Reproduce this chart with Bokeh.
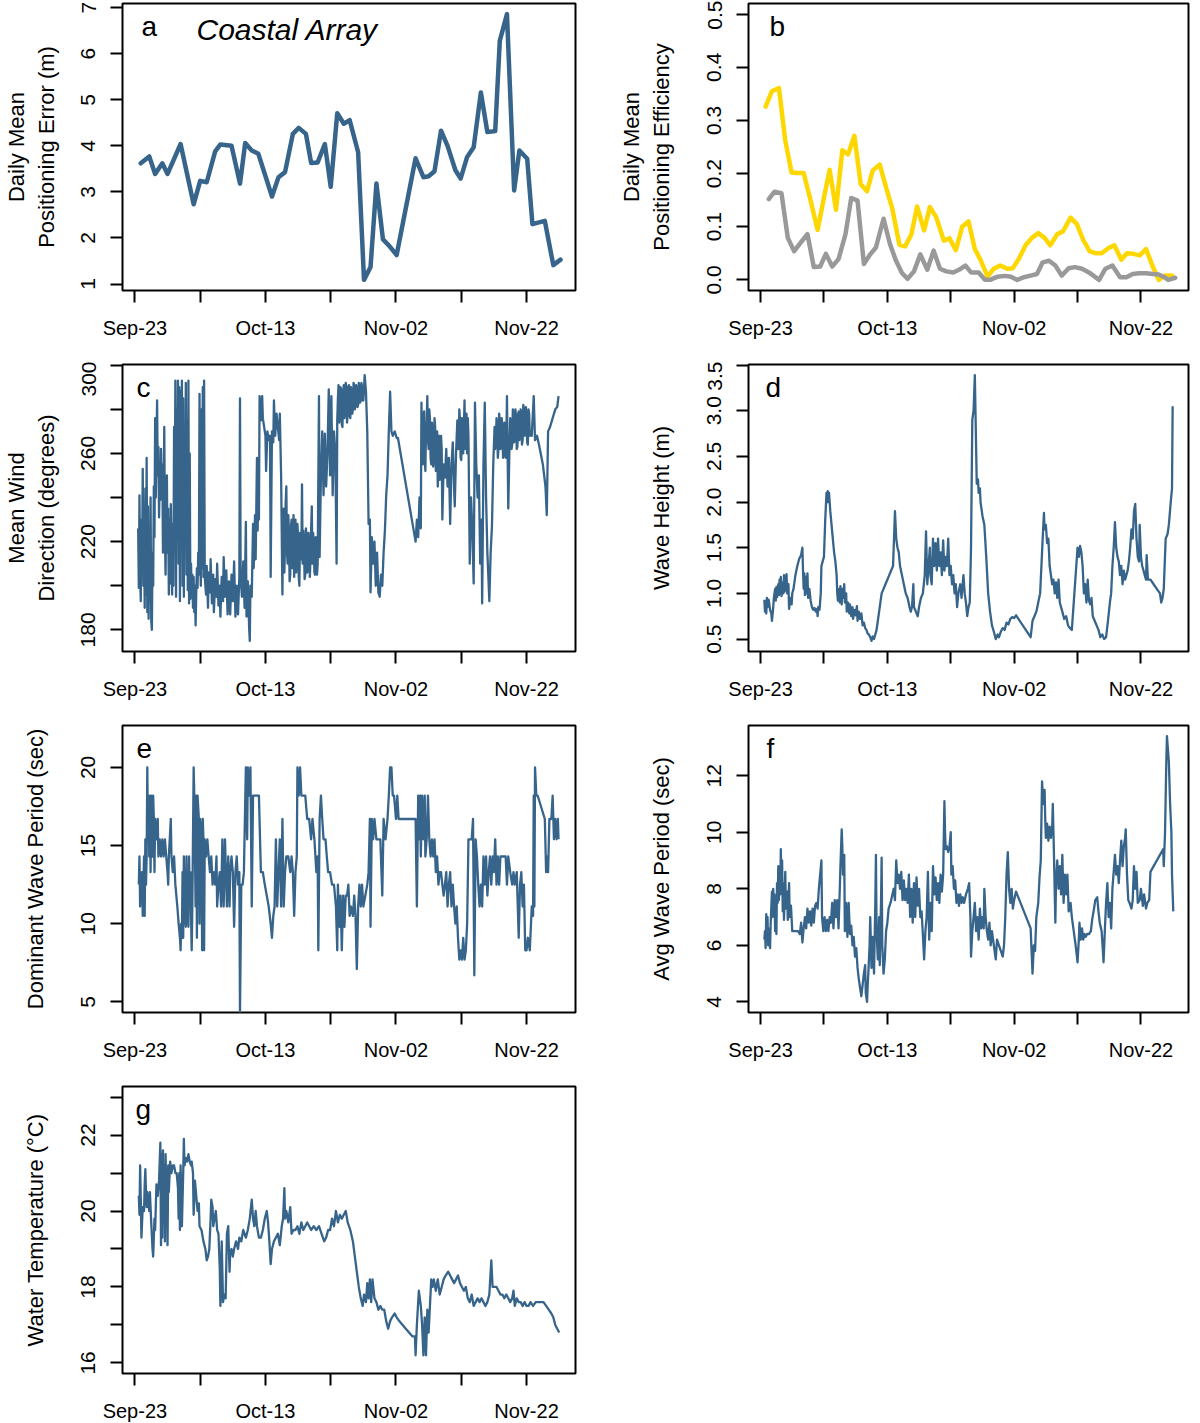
from bokeh.plotting import figure
from bokeh.layouts import column, row
from bokeh.models import FixedTicker, Range1d, Label
from bokeh.embed import file_html
from bokeh.resources import INLINE

FONT = "Liberation Sans"
BLUE = "#36648B"
GOLD = "#FFD700"
GREY = "#999999"

# x positions are days after Sep-23
X_TICKS = [0, 10, 20, 30, 40, 50, 60]
X_TICK_LABELS = ["Sep-23", "", "Oct-13", "", "Nov-02", "", "Nov-22"]
X_LIM = (-1.9, 67.5)

# ---- panel a: daily mean positioning error (m)
A_DAY = [0.9, 2.2, 3.1, 4.2, 5.0, 7.0, 9.0, 10.0, 11.0, 12.3, 13.1, 14.8, 16.1, 16.9, 17.9,
         18.9, 21.0, 22.0, 23.0, 24.2, 25.1, 26.2, 27.0, 28.0, 29.1, 30.0, 31.0, 32.0, 32.9,
         34.2, 35.1, 36.1, 37.0, 38.0, 38.9, 40.1, 43.0, 44.2, 45.0, 45.9, 46.9, 47.9, 49.1,
         49.9, 50.9, 51.9, 53.0, 54.0, 55.2, 55.9, 57.0, 58.1, 58.9, 60.1, 60.9, 62.8, 64.1, 65.2]
A_ERR = [3.62, 3.77, 3.39, 3.62, 3.39, 4.04, 2.73, 3.24, 3.21, 3.88, 4.03, 4.00, 3.18, 4.06, 3.90,
         3.83, 2.90, 3.32, 3.43, 4.26, 4.39, 4.26, 3.63, 3.64, 4.04, 3.11, 4.71, 4.48, 4.56,
         3.86, 1.09, 1.37, 3.18, 1.97, 1.84, 1.63, 3.73, 3.32, 3.34, 3.45, 4.33, 4.00, 3.47,
         3.29, 3.76, 3.97, 5.16, 4.30, 4.32, 6.28, 6.86, 3.03, 3.90, 3.72, 2.30, 2.37, 1.41, 1.53]

# ---- panel b: daily mean positioning efficiency (two series)
B_GOLD = [(0.8, 0.326), (1.8, 0.355), (2.9, 0.361), (3.9, 0.262), (4.9, 0.202), (5.9, 0.201),
          (6.8, 0.201), (7.9, 0.149), (9.0, 0.094), (10.0, 0.155), (10.9, 0.207), (11.9, 0.132),
          (12.9, 0.244), (13.8, 0.236), (14.8, 0.271), (15.8, 0.180), (16.8, 0.167), (17.7, 0.206),
          (18.8, 0.217), (19.8, 0.174), (20.8, 0.133), (21.9, 0.066), (22.8, 0.063), (23.8, 0.086),
          (24.7, 0.138), (25.8, 0.093), (26.7, 0.137), (27.7, 0.118), (28.9, 0.074), (29.8, 0.078),
          (30.8, 0.056), (31.8, 0.100), (32.8, 0.110), (33.8, 0.058), (34.8, 0.035), (35.8, 0.006),
          (36.8, 0.021), (37.8, 0.027), (38.9, 0.021), (39.8, 0.022), (40.8, 0.041), (41.8, 0.065),
          (42.8, 0.079), (43.8, 0.088), (44.8, 0.079), (45.7, 0.065), (46.8, 0.086), (47.7, 0.091),
          (48.9, 0.117), (49.9, 0.105), (50.9, 0.075), (51.9, 0.054), (52.9, 0.050), (53.8, 0.050),
          (54.9, 0.060), (55.8, 0.065), (56.9, 0.038), (57.8, 0.050), (58.8, 0.049), (59.8, 0.046),
          (60.8, 0.058), (61.9, 0.024), (62.8, 0.000), (63.7, 0.008), (64.9, 0.008)]
B_GREY = [(1.3, 0.152), (2.2, 0.166), (3.3, 0.163), (4.3, 0.079), (5.3, 0.054), (6.2, 0.068),
          (7.4, 0.086), (8.4, 0.024), (9.4, 0.025), (10.3, 0.049), (11.3, 0.025), (12.3, 0.039),
          (13.4, 0.086), (14.3, 0.154), (15.3, 0.149), (16.3, 0.030), (17.3, 0.048), (18.2, 0.061),
          (19.4, 0.115), (20.4, 0.068), (21.3, 0.038), (22.3, 0.013), (23.2, 0.002), (24.2, 0.016),
          (25.2, 0.048), (26.3, 0.019), (27.3, 0.055), (28.3, 0.021), (29.3, 0.016), (30.4, 0.014),
          (31.3, 0.019), (32.3, 0.027), (33.2, 0.014), (34.4, 0.014), (35.4, 0.000), (36.2, 0.000),
          (37.4, 0.006), (38.6, 0.0075), (39.5, 0.006), (40.5, 0.000), (41.5, 0.005), (42.6, 0.008),
          (43.6, 0.011), (44.5, 0.033), (45.5, 0.036), (46.5, 0.027), (47.5, 0.008), (48.6, 0.022),
          (49.6, 0.024), (50.7, 0.021), (51.8, 0.014), (53.4, 0.000), (54.4, 0.021), (55.5, 0.027),
          (56.7, 0.005), (57.7, 0.005), (58.7, 0.011), (59.7, 0.0125), (60.8, 0.0125), (61.9, 0.011),
          (62.8, 0.010), (63.7, 0.005), (64.3, 0.000), (65.4, 0.004)]

# ---- panel c: mean wind direction (degrees)
C_WIND = [(0.5, 226), (0.6, 199), (0.7, 241), (0.8, 205), (0.9, 193), (1.0, 230), (1.1, 210), (1.2, 253),
          (1.3, 200), (1.4, 225), (1.5, 190), (1.6, 244), (1.7, 196), (1.8, 258), (1.9, 188), (2.0, 236),
          (2.1, 185), (2.2, 225), (2.3, 193), (2.4, 240), (2.5, 184), (2.6, 180), (2.7, 215), (2.8, 200),
          (2.9, 245), (3.0, 222), (3.1, 276), (3.2, 240), (3.3, 262), (3.4, 284), (3.5, 250), (3.6, 263),
          (3.7, 231), (3.8, 250), (3.9, 239), (4.0, 262), (4.1, 245), (4.2, 255), (4.3, 215), (4.4, 241),
          (4.5, 272), (4.6, 222), (4.7, 205), (4.8, 236), (4.9, 250), (5.0, 215), (5.1, 235), (5.2, 196),
          (5.3, 230), (5.4, 201), (5.5, 237), (5.6, 215), (5.7, 196), (5.8, 228), (5.9, 200), (6.0, 272),
          (6.1, 230), (6.2, 293), (6.3, 195), (6.4, 280), (6.5, 240), (6.6, 293), (6.7, 210), (6.8, 290),
          (6.9, 193), (7.0, 288), (7.1, 220), (7.2, 293), (7.3, 200), (7.4, 285), (7.5, 195), (7.6, 270),
          (7.7, 230), (7.8, 292), (7.9, 205), (8.0, 275), (8.1, 198), (8.2, 293), (8.3, 192), (8.4, 260),
          (8.5, 194), (8.6, 210), (8.7, 195), (8.8, 205), (8.9, 190), (9.0, 204), (9.1, 188), (9.2, 200),
          (9.3, 182), (9.4, 197), (9.5, 208), (9.6, 199), (9.7, 215), (9.8, 205), (9.9, 287), (10.0, 215),
          (10.1, 200), (10.2, 280), (10.3, 208), (10.4, 290), (10.5, 204), (10.6, 293), (10.7, 204),
          (10.8, 200), (10.9, 196), (11.0, 209), (11.2, 190), (11.3, 206), (11.5, 197), (11.6, 212),
          (11.8, 192), (12.0, 205), (12.1, 188), (12.3, 203), (12.5, 195), (12.6, 210), (12.8, 191),
          (13.0, 200), (13.1, 186), (13.3, 204), (13.5, 193), (13.6, 213), (13.8, 195), (14.0, 207),
          (14.2, 187), (14.4, 202), (14.6, 187), (14.8, 205), (15.0, 193), (15.2, 211), (15.4, 186),
          (15.6, 200), (15.8, 187), (16.0, 204), (16.1, 285), (16.2, 204), (16.4, 195), (16.6, 211),
          (16.8, 190), (17.0, 229), (17.1, 186), (17.3, 202), (17.5, 181), (17.6, 175), (17.7, 200),
          (17.9, 195), (18.1, 228), (18.2, 208), (18.4, 232), (18.5, 212), (18.7, 258), (18.8, 225),
          (18.9, 240), (19.0, 230), (19.1, 286), (19.3, 275), (19.5, 286), (19.6, 276), (19.8, 272),
          (20.0, 268), (20.1, 252), (20.3, 270), (20.5, 266), (20.7, 268), (20.8, 204), (21.0, 270),
          (21.2, 265), (21.3, 284), (21.5, 268), (21.7, 278), (21.9, 272), (22.1, 266), (22.2, 278),
          (22.4, 250), (22.6, 196), (22.7, 228), (22.8, 235), (22.9, 206), (23.0, 220), (23.1, 238),
          (23.2, 245), (23.3, 215), (23.4, 210), (23.5, 232), (23.6, 225), (23.7, 202), (23.8, 205),
          (23.9, 226), (24.0, 230), (24.1, 208), (24.2, 215), (24.3, 232), (24.4, 204), (24.5, 221),
          (24.6, 230), (24.7, 206), (24.8, 210), (24.9, 228), (25.0, 222), (25.1, 204), (25.2, 200),
          (25.3, 224), (25.4, 218), (25.5, 212), (25.6, 246), (25.7, 210), (25.8, 225), (25.9, 219),
          (26.0, 203), (26.1, 205), (26.2, 226), (26.3, 222), (26.4, 206), (26.5, 208), (26.6, 224),
          (26.7, 218), (26.8, 204), (26.9, 212), (27.0, 226), (27.1, 236), (27.2, 210), (27.3, 224),
          (27.4, 220), (27.5, 206), (27.6, 205), (27.7, 222), (27.8, 215), (27.9, 205), (28.0, 210),
          (28.2, 286), (28.3, 213), (28.5, 250), (28.7, 270), (28.9, 241), (29.1, 269), (29.3, 245),
          (29.5, 260), (29.7, 289), (29.9, 250), (30.1, 286), (30.3, 241), (30.5, 270), (30.7, 261),
          (30.9, 210), (31.0, 275), (31.1, 285), (31.2, 291), (31.3, 274), (31.4, 276), (31.5, 290),
          (31.6, 289), (31.7, 273), (31.8, 272), (31.9, 288), (32.0, 291), (32.1, 276), (32.2, 280),
          (32.3, 292), (32.4, 290), (32.5, 274), (32.6, 278), (32.7, 290), (32.8, 291), (32.9, 277),
          (33.0, 276), (33.1, 290), (33.2, 288), (33.3, 278), (33.4, 280), (33.5, 292), (33.6, 291),
          (33.7, 280), (33.8, 283), (33.9, 291), (34.0, 288), (34.1, 281), (34.2, 282), (34.3, 292),
          (34.4, 290), (34.5, 283), (34.6, 284), (34.7, 292), (34.8, 290), (34.9, 284), (35.0, 284),
          (35.2, 295.5), (35.4, 288), (35.6, 270), (35.8, 228), (36.0, 230), (36.1, 197), (36.3, 222),
          (36.5, 210), (36.7, 220), (36.9, 200), (37.1, 215), (37.3, 197), (37.5, 195), (37.7, 205),
          (37.9, 200), (38.1, 215), (38.3, 225), (38.5, 241), (38.7, 250), (38.9, 270), (39.1, 288),
          (39.3, 270), (39.5, 268), (39.8, 270), (40.1, 267), (40.3, 267), (43.0, 220), (43.2, 230),
          (43.4, 222), (43.6, 240), (43.8, 226), (43.9, 283), (44.0, 262), (44.1, 255), (44.2, 276),
          (44.3, 279), (44.4, 258), (44.5, 252), (44.6, 272), (44.7, 275), (44.8, 286), (44.9, 266),
          (45.0, 262), (45.1, 280), (45.2, 276), (45.3, 258), (45.4, 255), (45.5, 274), (45.6, 270),
          (45.7, 254), (45.8, 258), (45.9, 276), (46.0, 272), (46.1, 252), (46.2, 263), (46.3, 270),
          (46.4, 245), (46.5, 266), (46.6, 268), (46.7, 248), (46.8, 250), (46.9, 268), (47.0, 262),
          (47.1, 230), (47.3, 255), (47.5, 249), (47.7, 262), (47.9, 245), (48.1, 258), (48.3, 228),
          (48.5, 255), (48.7, 265), (48.9, 244), (49.0, 236), (49.2, 260), (49.4, 275), (49.5, 262),
          (49.6, 262), (49.7, 280), (49.8, 275), (49.9, 258), (50.0, 257), (50.1, 276), (50.2, 270),
          (50.3, 260), (50.5, 284), (50.6, 262), (50.7, 270), (50.8, 278), (50.9, 260), (51.0, 276),
          (51.1, 268), (51.3, 210), (51.5, 240), (51.7, 225), (51.9, 201), (52.1, 283), (52.3, 255),
          (52.5, 240), (52.7, 250), (52.9, 210), (53.1, 230), (53.2, 192), (53.4, 255), (53.6, 283),
          (53.8, 240), (54.0, 215), (54.3, 193), (54.5, 215), (54.7, 227), (54.9, 255), (55.1, 272),
          (55.2, 262), (55.3, 265), (55.4, 276), (55.5, 270), (55.6, 258), (55.7, 262), (55.8, 278),
          (55.9, 275), (56.0, 262), (56.1, 264), (56.2, 276), (56.3, 270), (56.4, 258), (56.5, 260),
          (56.6, 274), (56.7, 268), (56.8, 258), (56.9, 265), (57.0, 286), (57.2, 235), (57.4, 265),
          (57.5, 276), (57.6, 272), (57.7, 262), (57.8, 264), (57.9, 280), (58.0, 278), (58.1, 265),
          (58.2, 268), (58.3, 280), (58.4, 275), (58.5, 262), (58.6, 263), (58.7, 278), (58.8, 279),
          (58.9, 266), (59.0, 268), (59.1, 280), (59.2, 276), (59.3, 264), (59.4, 266), (59.5, 282),
          (59.6, 280), (59.7, 268), (59.8, 270), (59.9, 281), (60.0, 276), (60.1, 265), (60.2, 264),
          (60.3, 280), (60.4, 278), (60.5, 268), (60.6, 270), (60.8, 268), (61.1, 286), (61.3, 266),
          (61.6, 268), (61.9, 264), (62.5, 255), (62.9, 245), (63.1, 232), (63.3, 270), (63.6, 272),
          (64.0, 276), (64.4, 280), (64.7, 281), (64.9, 286)]

# ---- panel d: wave height (m)
D_WAVE = [(0.6, 0.93), (0.7, 0.80), (0.8, 0.90), (0.9, 0.78), (1.0, 0.95), (1.1, 0.85), (1.3, 0.93),
          (1.5, 0.82), (1.7, 0.78), (1.8, 0.70), (2.0, 0.85), (2.1, 0.95), (2.3, 1.05), (2.4, 0.92),
          (2.5, 1.07), (2.6, 0.96), (2.8, 1.10), (2.9, 0.98), (3.0, 1.15), (3.1, 1.00), (3.2, 1.18),
          (3.3, 0.97), (3.5, 1.12), (3.6, 1.00), (3.7, 1.20), (3.8, 1.02), (4.0, 1.15), (4.1, 1.21),
          (4.2, 1.00), (4.4, 1.10), (4.5, 0.83), (4.7, 0.95), (4.9, 0.88), (5.0, 1.00), (5.2, 1.05),
          (5.5, 1.20), (5.8, 1.30), (6.1, 1.38), (6.4, 1.42), (6.6, 1.50), (6.7, 1.25), (6.8, 1.05),
          (6.9, 1.22), (7.0, 0.98), (7.1, 1.18), (7.2, 1.00), (7.4, 1.22), (7.5, 0.95), (7.7, 1.05),
          (7.9, 0.92), (8.1, 0.85), (8.3, 0.82), (8.5, 0.84), (8.7, 0.80), (8.9, 0.83), (9.0, 0.75),
          (9.1, 0.85), (9.3, 0.82), (9.5, 1.00), (9.6, 1.30), (9.8, 1.35), (10.0, 1.40), (10.2, 1.80),
          (10.4, 2.10), (10.5, 2.00), (10.6, 2.12), (10.7, 2.00), (10.8, 2.10), (11.0, 1.90), (11.2, 1.75),
          (11.4, 1.60), (11.6, 1.45), (11.8, 1.35), (12.0, 1.20), (12.1, 1.00), (12.2, 0.92), (12.4, 1.05),
          (12.5, 0.90), (12.6, 1.08), (12.8, 0.88), (12.9, 1.05), (13.0, 0.95), (13.2, 1.10), (13.3, 0.90),
          (13.5, 1.00), (13.6, 0.80), (13.8, 0.90), (14.0, 0.78), (14.1, 0.88), (14.3, 0.75), (14.5, 0.85),
          (14.6, 0.72), (14.8, 0.82), (15.0, 0.76), (15.2, 0.86), (15.3, 0.70), (15.5, 0.80), (15.7, 0.72),
          (15.9, 0.78), (16.1, 0.65), (16.3, 0.68), (16.5, 0.62), (16.7, 0.60), (16.9, 0.56), (17.1, 0.55),
          (17.3, 0.52), (17.5, 0.48), (17.7, 0.53), (17.9, 0.50), (18.1, 0.55), (18.3, 0.60), (18.5, 0.70),
          (18.8, 0.85), (19.1, 1.00), (19.4, 1.05), (19.7, 1.10), (20.0, 1.15), (20.3, 1.20), (20.6, 1.25),
          (20.9, 1.30), (21.2, 1.90), (21.4, 1.60), (21.6, 1.50), (21.8, 1.45), (22.0, 1.30), (22.3, 1.20),
          (22.6, 1.10), (22.9, 1.00), (23.2, 0.95), (23.5, 0.85), (23.7, 0.80), (23.9, 0.86), (24.1, 1.10),
          (24.2, 0.85), (24.5, 0.80), (24.8, 0.75), (25.0, 0.85), (25.3, 0.95), (25.6, 1.00), (25.9, 1.20),
          (26.1, 1.68), (26.3, 1.10), (26.5, 1.30), (26.7, 1.50), (26.8, 1.20), (27.0, 1.10), (27.2, 1.60),
          (27.4, 1.30), (27.6, 1.55), (27.8, 1.25), (28.0, 1.60), (28.2, 1.30), (28.4, 1.45), (28.6, 1.20),
          (28.8, 1.58), (29.0, 1.25), (29.2, 1.40), (29.4, 1.30), (29.6, 1.60), (29.8, 1.20), (30.0, 1.30),
          (30.2, 1.10), (30.4, 1.20), (30.6, 1.00), (30.8, 1.10), (31.0, 0.85), (31.2, 1.00), (31.5, 1.10),
          (31.7, 0.95), (32.0, 1.20), (32.2, 1.00), (32.4, 0.90), (32.6, 0.75), (32.8, 0.85), (33.0, 0.90),
          (33.2, 1.50), (33.4, 2.90), (33.6, 3.00), (33.8, 3.39), (34.0, 2.60), (34.1, 2.20), (34.3, 2.25),
          (34.4, 2.10), (34.6, 2.15), (34.7, 2.00), (35.0, 1.85), (35.3, 1.75), (35.6, 1.40), (35.9, 1.00),
          (36.2, 0.80), (36.5, 0.65), (36.8, 0.58), (37.1, 0.50), (37.4, 0.55), (37.6, 0.52), (37.9, 0.58),
          (38.2, 0.62), (38.5, 0.60), (38.8, 0.68), (39.1, 0.66), (39.4, 0.72), (39.7, 0.74), (40.0, 0.73),
          (40.3, 0.76), (42.6, 0.52), (42.9, 0.70), (43.2, 0.75), (43.5, 0.80), (43.8, 0.90), (44.1, 1.00),
          (44.3, 1.30), (44.5, 1.60), (44.7, 1.88), (44.8, 1.70), (45.0, 1.75), (45.2, 1.55), (45.4, 1.60),
          (45.6, 1.30), (45.8, 1.20), (46.0, 1.10), (46.2, 1.15), (46.4, 1.00), (46.6, 1.12), (46.8, 0.95),
          (47.0, 1.15), (47.2, 0.90), (47.4, 0.85), (47.6, 0.80), (47.9, 0.72), (48.2, 0.75), (48.5, 0.65),
          (48.8, 0.62), (49.1, 0.60), (49.3, 0.80), (49.6, 1.10), (49.8, 1.30), (50.0, 1.50), (50.2, 1.40),
          (50.4, 1.52), (50.6, 1.45), (50.8, 1.30), (51.0, 1.00), (51.2, 1.10), (51.4, 0.90), (51.6, 1.15),
          (51.8, 0.92), (52.0, 0.88), (52.2, 0.95), (52.4, 0.75), (52.7, 0.70), (53.0, 0.65), (53.3, 0.60),
          (53.6, 0.52), (53.9, 0.55), (54.2, 0.50), (54.5, 0.52), (54.8, 0.70), (55.1, 0.90), (55.3, 1.00),
          (55.5, 1.30), (55.7, 1.50), (55.9, 1.78), (56.1, 1.50), (56.3, 1.40), (56.5, 1.35), (56.7, 1.20),
          (56.9, 1.30), (57.1, 1.10), (57.3, 1.25), (57.5, 1.15), (57.7, 1.20), (57.9, 1.25), (58.1, 1.35),
          (58.3, 1.50), (58.5, 1.70), (58.7, 1.60), (58.9, 1.90), (59.1, 1.98), (59.3, 1.60), (59.5, 1.40),
          (59.7, 1.35), (59.8, 1.75), (60.0, 1.40), (60.2, 1.30), (60.4, 1.25), (60.6, 1.20), (60.8, 1.15),
          (60.9, 1.42), (61.1, 1.15), (61.5, 1.15), (62.0, 1.10), (62.5, 1.05), (63.0, 1.00), (63.2, 0.90),
          (63.4, 0.95), (63.6, 1.05), (63.9, 1.60), (64.2, 1.65), (64.4, 1.75), (64.7, 2.00), (64.9, 2.15),
          (65.0, 3.05)]

# ---- panel e: dominant wave period (sec)
E_PERIOD = [(0.6, 12.5), (0.7, 14.3), (0.8, 11.1), (0.9, 13.3), (1.0, 11.8), (1.1, 13.3), (1.2, 10.5),
            (1.3, 12.5), (1.4, 14.3), (1.5, 10.5), (1.6, 15.4), (1.7, 12.5), (1.8, 14.3), (1.9, 20.0),
            (2.0, 15.4), (2.1, 18.2), (2.2, 14.3), (2.3, 18.2), (2.4, 13.3), (2.5, 18.2), (2.6, 16.7),
            (2.7, 14.3), (2.8, 18.2), (2.9, 16.7), (3.0, 13.3), (3.1, 16.7), (3.3, 15.4), (3.5, 16.7),
            (3.6, 14.3), (3.8, 15.4), (4.0, 14.3), (4.2, 15.4), (4.4, 14.3), (4.6, 15.4), (4.8, 14.3),
            (5.0, 13.3), (5.1, 12.5), (5.2, 14.3), (5.5, 16.7), (5.6, 14.3), (5.8, 13.3), (6.0, 14.3),
            (6.2, 12.5), (6.5, 11.1), (6.7, 10.0), (6.9, 9.1), (7.0, 8.3), (7.1, 10.0), (7.2, 9.1),
            (7.3, 13.3), (7.4, 9.1), (7.5, 14.3), (7.6, 10.0), (7.7, 13.3), (7.8, 9.8), (7.9, 14.3),
            (8.0, 10.0), (8.1, 12.5), (8.2, 9.8), (8.3, 14.3), (8.4, 11.1), (8.5, 13.3), (8.6, 10.5),
            (8.7, 8.3), (8.8, 11.1), (9.0, 20.0), (9.1, 18.2), (9.3, 11.1), (9.4, 18.2), (9.5, 9.1),
            (9.6, 18.2), (9.8, 16.7), (9.9, 10.0), (10.0, 16.7), (10.2, 15.4), (10.3, 8.3), (10.4, 16.7),
            (10.5, 15.4), (10.6, 8.3), (10.7, 15.4), (10.9, 14.3), (11.1, 15.4), (11.3, 14.3), (11.5, 13.3),
            (11.7, 14.3), (11.9, 12.5), (12.1, 13.3), (12.3, 12.5), (12.5, 14.3), (12.6, 11.1), (12.8, 12.5),
            (13.0, 13.3), (13.2, 11.1), (13.4, 15.4), (13.5, 12.5), (13.6, 11.1), (13.8, 15.4), (14.0, 12.5),
            (14.1, 11.1), (14.3, 14.3), (14.5, 11.1), (14.6, 13.3), (14.8, 14.3), (15.0, 13.3), (15.2, 9.8),
            (15.4, 13.3), (15.6, 14.3), (15.8, 12.5), (16.0, 13.3), (16.1, 4.3), (16.3, 12.5), (16.5, 12.5),
            (16.7, 13.3), (17.0, 20.0), (17.2, 15.4), (17.3, 20.0), (17.5, 18.2), (17.7, 20.0), (17.9, 11.1),
            (18.1, 18.2), (18.4, 18.2), (18.7, 18.2), (19.0, 18.2), (19.3, 13.3), (19.6, 13.3), (19.9, 12.5),
            (20.2, 11.8), (20.5, 11.1), (20.8, 10.0), (21.0, 9.1), (21.2, 10.5), (21.4, 11.1), (21.6, 15.4),
            (21.8, 11.1), (22.0, 13.3), (22.2, 15.4), (22.4, 11.1), (22.6, 16.7), (22.8, 11.1), (23.0, 13.3),
            (23.2, 14.3), (23.5, 14.3), (23.8, 13.3), (24.0, 14.3), (24.2, 13.3), (24.4, 10.5), (24.6, 13.3),
            (24.8, 14.3), (24.9, 20.0), (25.1, 18.2), (25.3, 20.0), (25.5, 18.2), (25.8, 18.2), (26.1, 18.2),
            (26.4, 16.7), (26.7, 16.7), (27.0, 15.4), (27.2, 16.7), (27.5, 15.4), (27.8, 13.3), (28.0, 14.3),
            (28.1, 8.3), (28.3, 16.7), (28.5, 18.2), (28.7, 16.7), (28.9, 15.4), (29.2, 15.4), (29.4, 14.3),
            (29.6, 13.3), (29.9, 13.3), (30.2, 12.5), (30.5, 12.5), (30.8, 11.1), (31.0, 8.3), (31.1, 12.5),
            (31.3, 9.8), (31.5, 11.8), (31.7, 8.3), (31.9, 11.8), (32.1, 9.8), (32.3, 11.8), (32.5, 11.8),
            (32.7, 12.5), (32.9, 10.5), (33.1, 11.1), (33.4, 10.5), (33.6, 11.8), (33.8, 10.5), (34.0, 7.1),
            (34.2, 11.1), (34.4, 12.5), (34.6, 11.1), (34.8, 12.5), (35.0, 11.1), (35.3, 11.8), (35.6, 12.5),
            (35.8, 13.3), (36.0, 16.7), (36.1, 9.8), (36.3, 16.7), (36.5, 15.4), (36.7, 16.7), (37.0, 15.4),
            (37.3, 15.4), (37.6, 15.4), (37.9, 11.8), (38.1, 16.7), (38.4, 15.4), (38.7, 16.7), (38.9, 18.2),
            (39.1, 20.0), (39.3, 20.0), (39.5, 18.2), (39.7, 18.2), (40.0, 16.7), (40.2, 18.2), (40.4, 16.7),
            (43.0, 16.7), (43.2, 11.1), (43.4, 18.2), (43.5, 15.4), (43.7, 18.2), (43.8, 14.3), (44.0, 18.2),
            (44.2, 15.4), (44.4, 18.2), (44.5, 14.3), (44.7, 15.4), (44.9, 18.2), (45.1, 15.4), (45.3, 14.3),
            (45.5, 15.4), (45.7, 14.3), (45.9, 15.4), (46.1, 13.3), (46.3, 14.3), (46.5, 12.5), (46.7, 13.3),
            (46.9, 13.3), (47.1, 12.5), (47.3, 11.8), (47.5, 12.5), (47.7, 13.3), (47.9, 11.1), (48.1, 12.5),
            (48.3, 13.3), (48.5, 11.1), (48.7, 12.5), (48.9, 11.1), (49.1, 10.0), (49.3, 11.1), (49.5, 9.1),
            (49.7, 7.7), (49.9, 8.3), (50.1, 7.7), (50.3, 9.1), (50.5, 7.7), (50.7, 8.3), (50.9, 10.0),
            (51.1, 15.4), (51.3, 15.4), (51.6, 15.4), (51.8, 16.7), (52.0, 6.7), (52.2, 15.4), (52.4, 14.3),
            (52.6, 12.5), (52.8, 11.1), (53.0, 12.5), (53.2, 11.1), (53.4, 14.3), (53.6, 12.5), (53.8, 14.3),
            (54.0, 11.8), (54.2, 13.3), (54.4, 14.3), (54.6, 12.5), (54.8, 14.3), (55.0, 13.3), (55.2, 15.4),
            (55.4, 12.5), (55.6, 14.3), (55.8, 12.5), (56.0, 14.3), (56.4, 14.3), (56.8, 14.3), (57.0, 12.5),
            (57.2, 14.3), (57.5, 13.3), (57.8, 12.5), (58.0, 13.3), (58.2, 12.5), (58.5, 13.3), (58.8, 9.1),
            (59.0, 12.5), (59.2, 13.3), (59.4, 11.1), (59.6, 12.5), (59.8, 8.3), (60.0, 8.3), (60.2, 9.1),
            (60.5, 8.3), (60.8, 11.1), (61.0, 10.5), (61.1, 18.2), (61.2, 11.1), (61.3, 20.0), (61.5, 18.2),
            (61.7, 18.2), (62.8, 16.7), (63.0, 13.3), (63.1, 14.3), (63.3, 13.3), (63.5, 16.7), (63.8, 16.7),
            (64.0, 18.2), (64.2, 15.4), (64.4, 16.7), (64.6, 15.4), (64.8, 16.7), (64.9, 15.4)]

# ---- panel f: average wave period (sec)
F_PERIOD = [(0.6, 6.2), (0.7, 6.5), (0.8, 5.9), (0.9, 7.1), (1.0, 6.4), (1.1, 7.0), (1.2, 6.0), (1.3, 6.6),
            (1.5, 5.9), (1.6, 6.8), (1.8, 7.9), (1.9, 7.0), (2.0, 8.0), (2.1, 7.2), (2.2, 7.8), (2.3, 6.5),
            (2.4, 7.6), (2.5, 6.4), (2.6, 8.2), (2.7, 7.5), (2.8, 8.8), (2.9, 7.6), (3.0, 8.5), (3.1, 7.8),
            (3.2, 9.4), (3.3, 8.0), (3.4, 9.0), (3.5, 7.2), (3.6, 8.2), (3.7, 6.9), (3.9, 8.6), (4.0, 7.3),
            (4.2, 7.9), (4.3, 6.9), (4.5, 8.2), (4.6, 7.0), (4.8, 7.4), (5.0, 6.5), (5.3, 6.5), (5.6, 6.5),
            (5.9, 6.5), (6.2, 6.4), (6.4, 6.8), (6.6, 6.1), (6.8, 6.6), (7.0, 7.0), (7.2, 6.6), (7.4, 7.3),
            (7.6, 6.8), (7.8, 7.2), (8.0, 6.7), (8.2, 7.3), (8.4, 6.8), (8.6, 7.4), (8.8, 7.5), (9.0, 7.3),
            (9.2, 8.0), (9.4, 8.5), (9.6, 9.0), (9.7, 7.0), (9.9, 6.5), (10.1, 7.0), (10.3, 6.5), (10.5, 6.9),
            (10.7, 6.5), (10.9, 7.0), (11.1, 6.8), (11.3, 7.5), (11.5, 6.6), (11.7, 7.6), (11.9, 7.0),
            (12.1, 7.6), (12.3, 6.6), (12.5, 8.0), (12.6, 8.8), (12.8, 10.1), (12.9, 9.5), (13.0, 8.5),
            (13.2, 9.2), (13.3, 6.5), (13.5, 7.5), (13.7, 6.3), (13.9, 7.5), (14.1, 6.4), (14.3, 6.7),
            (14.5, 6.0), (14.7, 6.3), (14.9, 5.6), (15.1, 5.9), (15.3, 5.2), (15.5, 4.8), (15.7, 4.5),
            (15.9, 4.2), (16.1, 4.6), (16.3, 5.0), (16.5, 5.3), (16.6, 4.3), (16.8, 4.0), (16.9, 4.6),
            (17.0, 5.0), (17.2, 6.0), (17.3, 7.0), (17.5, 5.2), (17.7, 6.3), (17.9, 5.0), (18.1, 7.5),
            (18.2, 9.2), (18.3, 6.5), (18.5, 5.5), (18.7, 7.0), (18.8, 5.3), (19.0, 7.5), (19.1, 9.1),
            (19.2, 6.0), (19.4, 5.0), (19.6, 5.5), (19.8, 6.5), (20.0, 6.8), (20.2, 7.3), (20.5, 7.5),
            (20.8, 7.8), (21.0, 8.0), (21.2, 7.6), (21.4, 9.0), (21.6, 8.2), (21.8, 8.5), (22.0, 8.0),
            (22.2, 8.6), (22.4, 7.6), (22.6, 8.3), (22.8, 7.6), (23.0, 8.0), (23.2, 7.5), (23.4, 8.5),
            (23.6, 7.0), (23.8, 8.0), (24.0, 6.8), (24.2, 8.2), (24.4, 7.0), (24.6, 8.4), (24.8, 7.4),
            (25.0, 8.0), (25.2, 7.0), (25.4, 7.2), (25.6, 6.4), (25.8, 5.5), (26.0, 6.5), (26.2, 7.0),
            (26.4, 8.6), (26.6, 6.2), (26.8, 7.5), (27.0, 6.5), (27.2, 8.8), (27.4, 7.8), (27.6, 8.4),
            (27.8, 7.6), (28.0, 8.2), (28.2, 7.5), (28.4, 8.5), (28.6, 7.9), (28.8, 8.5), (29.0, 11.1),
            (29.1, 10.0), (29.2, 9.4), (29.4, 9.5), (29.6, 9.3), (29.8, 9.5), (30.0, 10.0), (30.1, 8.5),
            (30.3, 8.8), (30.5, 8.0), (30.7, 8.3), (30.9, 7.5), (31.1, 7.8), (31.3, 7.4), (31.5, 7.8),
            (31.7, 7.5), (31.9, 7.7), (32.1, 7.5), (32.4, 7.8), (32.7, 8.0), (32.9, 8.2), (33.1, 7.0),
            (33.2, 5.6), (33.4, 6.5), (33.6, 7.0), (33.8, 7.5), (34.0, 6.5), (34.2, 7.0), (34.4, 6.2),
            (34.6, 7.3), (34.8, 6.6), (35.0, 7.0), (35.2, 6.6), (35.3, 8.0), (35.5, 7.0), (35.7, 6.5),
            (35.9, 6.2), (36.1, 6.8), (36.3, 6.0), (36.5, 6.5), (36.8, 6.0), (37.1, 5.5), (37.3, 6.2),
            (37.6, 6.0), (37.9, 5.8), (38.2, 5.6), (38.4, 6.0), (38.6, 7.0), (38.8, 8.5), (39.0, 9.3),
            (39.2, 8.0), (39.4, 7.5), (39.6, 8.0), (39.8, 7.3), (40.0, 7.6), (40.3, 7.9), (42.6, 6.6),
            (42.9, 5.0), (43.1, 6.0), (43.3, 5.8), (43.5, 7.0), (43.8, 7.5), (44.0, 8.4), (44.2, 9.0),
            (44.4, 11.8), (44.6, 11.0), (44.8, 11.5), (44.9, 10.5), (45.0, 9.8), (45.2, 10.3), (45.4, 9.7),
            (45.6, 10.2), (45.8, 9.8), (46.0, 10.2), (46.1, 11.0), (46.3, 9.0), (46.5, 6.8), (46.6, 8.2),
            (46.8, 9.0), (47.0, 8.0), (47.2, 8.8), (47.4, 7.8), (47.6, 9.2), (47.8, 7.5), (48.0, 8.5),
            (48.2, 7.8), (48.4, 8.5), (48.6, 7.2), (48.9, 7.5), (49.1, 7.0), (49.4, 6.5), (49.7, 6.0),
            (50.0, 5.4), (50.2, 6.2), (50.3, 6.8), (50.5, 6.2), (50.7, 6.6), (50.9, 6.2), (51.1, 6.4),
            (51.3, 6.3), (51.5, 6.4), (51.8, 6.4), (52.1, 6.5), (52.3, 6.9), (52.6, 7.3), (52.8, 7.6),
            (53.1, 7.7), (53.3, 7.2), (53.5, 6.8), (53.8, 6.5), (54.0, 5.8), (54.1, 5.4), (54.3, 6.5),
            (54.5, 7.5), (54.7, 8.2), (54.9, 7.0), (55.1, 7.5), (55.3, 6.6), (55.5, 8.0), (55.7, 8.6),
            (55.9, 9.2), (56.1, 8.5), (56.3, 8.8), (56.5, 8.2), (56.7, 9.0), (56.9, 9.7), (57.1, 8.8),
            (57.3, 9.5), (57.5, 9.8), (57.6, 10.1), (57.8, 8.5), (58.0, 7.6), (58.2, 7.5), (58.5, 7.3),
            (58.7, 7.6), (58.9, 8.8), (59.1, 8.0), (59.3, 8.6), (59.5, 7.5), (59.8, 7.6), (60.0, 8.0),
            (60.3, 7.4), (60.5, 7.8), (60.8, 7.3), (61.0, 7.5), (61.3, 7.6), (61.5, 8.6), (62.0, 8.8),
            (62.5, 9.0), (63.0, 9.2), (63.5, 9.4), (63.6, 8.8), (63.8, 10.0), (64.0, 12.5), (64.1, 13.4),
            (64.3, 12.8), (64.4, 12.5), (64.6, 11.0), (64.8, 10.0), (64.9, 8.5), (65.1, 7.2)]

# ---- panel g: water temperature (deg C)
G_TEMP = [(0.6, 20.4), (0.7, 19.9), (0.8, 21.2), (0.9, 20.3), (1.0, 19.3), (1.2, 20.1), (1.4, 20.0),
          (1.5, 20.7), (1.6, 21.1), (1.7, 20.5), (1.8, 20.1), (1.9, 20.5), (2.0, 20.3), (2.2, 20.0),
          (2.3, 20.5), (2.5, 19.7), (2.7, 19.0), (2.8, 18.8), (3.0, 19.8), (3.1, 19.5), (3.3, 20.7),
          (3.5, 20.4), (3.7, 20.8), (3.9, 21.8), (4.0, 19.1), (4.1, 21.5), (4.2, 19.3), (4.3, 21.6),
          (4.4, 20.0), (4.5, 21.2), (4.6, 19.2), (4.7, 21.5), (4.8, 20.5), (4.9, 21.0), (5.0, 19.1),
          (5.1, 21.2), (5.2, 20.5), (5.4, 21.3), (5.6, 21.0), (5.8, 21.2), (6.0, 21.2), (6.2, 21.0),
          (6.4, 21.0), (6.6, 20.6), (6.7, 19.8), (6.8, 21.0), (6.9, 19.5), (7.0, 21.2), (7.2, 19.6),
          (7.4, 21.0), (7.5, 21.9), (7.6, 21.2), (7.8, 21.4), (8.0, 21.3), (8.2, 21.5), (8.4, 21.3),
          (8.6, 21.2), (8.7, 21.3), (8.9, 21.0), (9.0, 19.9), (9.2, 20.8), (9.4, 20.4), (9.6, 20.0),
          (9.8, 20.2), (9.9, 19.6), (10.2, 19.5), (10.5, 19.2), (10.8, 19.0), (11.0, 18.7), (11.2, 18.8),
          (11.4, 19.0), (11.6, 19.8), (11.7, 20.3), (11.9, 20.1), (12.0, 19.6), (12.2, 19.8), (12.4, 20.0),
          (12.6, 19.5), (12.8, 19.4), (13.0, 18.5), (13.1, 17.5), (13.2, 18.0), (13.3, 19.2), (13.5, 17.6),
          (13.7, 17.8), (13.9, 17.7), (14.1, 19.4), (14.3, 19.6), (14.5, 18.4), (14.6, 18.9), (14.8, 19.0),
          (15.0, 18.8), (15.2, 19.0), (15.5, 19.2), (15.8, 19.0), (16.0, 19.3), (16.3, 19.2), (16.6, 19.5),
          (16.8, 19.4), (17.0, 19.3), (17.3, 19.5), (17.6, 19.8), (17.9, 20.3), (18.1, 19.8), (18.3, 19.6),
          (18.5, 20.0), (18.7, 19.6), (19.0, 19.3), (19.3, 19.3), (19.6, 19.5), (19.9, 19.8), (20.2, 20.0),
          (20.4, 19.7), (20.6, 19.2), (20.8, 18.6), (21.0, 19.0), (21.3, 19.2), (21.6, 19.3), (21.9, 19.4),
          (22.2, 19.1), (22.5, 19.6), (22.7, 19.8), (22.9, 20.6), (23.0, 19.8), (23.2, 20.0), (23.5, 19.7),
          (23.8, 20.1), (24.0, 19.4), (24.3, 19.5), (24.6, 19.5), (24.9, 19.6), (25.2, 19.4), (25.5, 19.7),
          (25.8, 19.5), (26.1, 19.6), (26.4, 19.7), (26.7, 19.6), (27.0, 19.5), (27.4, 19.6), (27.8, 19.5),
          (28.2, 19.6), (28.6, 19.4), (29.0, 19.2), (29.3, 19.3), (29.6, 19.5), (29.9, 19.5), (30.2, 19.8),
          (30.5, 19.6), (30.8, 20.0), (31.1, 19.7), (31.4, 19.9), (31.7, 19.8), (32.0, 19.9), (32.3, 20.0),
          (32.6, 19.7), (33.0, 19.5), (33.4, 19.2), (33.7, 18.8), (34.0, 18.4), (34.3, 18.0), (34.6, 17.7),
          (34.9, 17.5), (35.1, 17.8), (35.4, 17.6), (35.6, 18.1), (35.8, 17.7), (36.0, 18.2), (36.2, 17.6),
          (36.4, 18.2), (36.7, 17.7), (37.0, 17.6), (37.3, 17.4), (37.6, 17.5), (37.9, 17.4), (38.2, 17.4),
          (38.5, 17.1), (38.8, 16.9), (39.1, 17.1), (39.4, 17.2), (39.8, 17.3), (40.1, 17.2), (40.5, 17.1),
          (41.5, 16.9), (42.5, 16.7), (42.9, 16.7), (43.0, 16.2), (43.2, 17.0), (43.5, 17.9), (43.8, 17.5),
          (44.0, 17.0), (44.2, 16.2), (44.4, 17.2), (44.6, 16.2), (44.8, 17.4), (45.0, 16.8), (45.2, 17.5),
          (45.4, 18.2), (45.6, 18.0), (45.8, 18.2), (46.1, 17.9), (46.4, 18.2), (46.7, 17.8), (47.0, 18.0),
          (47.3, 18.2), (47.6, 18.3), (48.0, 18.4), (48.3, 18.3), (48.6, 18.2), (48.9, 18.1), (49.2, 18.2),
          (49.5, 18.3), (49.8, 18.1), (50.1, 18.0), (50.4, 17.9), (50.7, 18.0), (51.0, 17.7), (51.3, 17.6),
          (51.6, 17.8), (51.9, 17.5), (52.2, 17.6), (52.5, 17.7), (52.8, 17.6), (53.1, 17.7), (53.4, 17.6),
          (53.7, 17.5), (54.0, 17.6), (54.3, 17.8), (54.6, 18.7), (54.8, 18.0), (55.1, 18.0), (55.4, 18.0),
          (55.7, 17.9), (56.0, 17.8), (56.3, 17.8), (56.6, 17.7), (56.9, 17.8), (57.2, 17.7), (57.5, 17.6),
          (57.8, 17.7), (58.0, 17.9), (58.2, 17.5), (58.5, 17.7), (58.8, 17.6), (59.1, 17.6), (59.4, 17.5),
          (59.7, 17.6), (60.0, 17.5), (60.3, 17.5), (60.6, 17.6), (61.0, 17.5), (61.4, 17.6), (61.8, 17.6),
          (62.2, 17.6), (62.6, 17.6), (63.0, 17.5), (63.4, 17.4), (63.8, 17.3), (64.1, 17.2), (64.4, 17.0),
          (64.7, 16.9), (65.0, 16.8)]

# ---- y ticks and labels per panel
A_YTICKS = [1, 2, 3, 4, 5, 6, 7]
A_YLABELS = ["1", "2", "3", "4", "5", "6", "7"]
B_YTICKS = [0.0, 0.1, 0.2, 0.3, 0.4, 0.5]
B_YLABELS = ["0.0", "0.1", "0.2", "0.3", "0.4", "0.5"]
C_YTICKS = [180, 200, 220, 240, 260, 280, 300]
C_YLABELS = ["180", "", "220", "", "260", "", "300"]
D_YTICKS = [0.5, 1.0, 1.5, 2.0, 2.5, 3.0, 3.5]
D_YLABELS = ["0.5", "1.0", "1.5", "2.0", "2.5", "3.0", "3.5"]
E_YTICKS = [5, 10, 15, 20]
E_YLABELS = ["5", "10", "15", "20"]
F_YTICKS = [4, 6, 8, 10, 12]
F_YLABELS = ["4", "6", "8", "10", "12"]
G_YTICKS = [16, 17, 18, 19, 20, 21, 22, 23]
G_YLABELS = ["16", "", "18", "", "20", "", "22", ""]

B_YLIM = (0.0, 0.5)
E_YLIM = (5, 22)
G_YLIM = (16, 23)

FRAME_H = 287


def rpad(lo, hi):
    d = (hi - lo) * 0.04
    return (lo - d, hi + d)


def unzip(pts):
    return [t for t, _ in pts], [v for _, v in pts]


def make_fig(col, ylim, yticks, ylabels, ylab, lab_standoff, last=False):
    if col == 0:
        bl, br, fw = 122, 25, 453
    else:
        bl, br, fw = 148, 10, 440
    bb = 48 if last else 71
    p = figure(frame_width=fw, frame_height=FRAME_H,
               min_border_left=bl, min_border_right=br,
               min_border_top=3, min_border_bottom=bb,
               x_range=Range1d(*X_LIM), y_range=Range1d(*ylim),
               output_backend="svg", toolbar_location=None, tools="")
    p.outline_line_color = "black"
    p.outline_line_width = 2
    p.xgrid.visible = False
    p.ygrid.visible = False
    p.background_fill_color = "white"
    p.border_fill_color = "white"

    xa = p.xaxis[0]
    xa.ticker = FixedTicker(ticks=X_TICKS)
    xa.major_label_overrides = dict(zip(X_TICKS, X_TICK_LABELS))
    xa.minor_tick_line_color = None
    xa.axis_line_color = None
    xa.major_tick_in = 0
    xa.major_tick_out = 12
    xa.major_tick_line_width = 2
    xa.major_tick_line_color = "black"
    xa.major_label_standoff = 14
    xa.major_label_text_font = FONT
    xa.major_label_text_font_size = "20px"
    xa.major_label_text_color = "black"

    ya = p.yaxis[0]
    ya.ticker = FixedTicker(ticks=yticks)
    ya.major_label_overrides = dict(zip(yticks, ylabels))
    ya.minor_tick_line_color = None
    ya.axis_line_color = None
    ya.major_tick_in = 0
    ya.major_tick_out = 12
    ya.major_tick_line_width = 2
    ya.major_tick_line_color = "black"
    ya.major_label_orientation = "vertical"
    ya.major_label_standoff = 15
    ya.major_label_text_font = FONT
    ya.major_label_text_font_size = "21px"
    ya.major_label_text_color = "black"
    ya.axis_label = ylab
    ya.axis_label_standoff = lab_standoff
    ya.axis_label_text_font = FONT
    ya.axis_label_text_font_size = "22px"
    ya.axis_label_text_font_style = "normal"
    ya.axis_label_text_color = "black"
    return p, fw


def add_text(p, fw, ylim, text, dx_px, dy_px, size, style="normal"):
    xs = X_LIM[0] + dx_px * (X_LIM[1] - X_LIM[0]) / fw
    ys = ylim[1] - dy_px * (ylim[1] - ylim[0]) / FRAME_H
    p.add_layout(Label(x=xs, y=ys, text=text, text_font=FONT, text_font_size=size,
                       text_font_style=style, text_color="black",
                       text_baseline="alphabetic", text_align="left"))


# panel a
ya_lim = rpad(min(A_ERR), max(A_ERR))
pa, fwa = make_fig(0, ya_lim, A_YTICKS, A_YLABELS, "Daily Mean\nPositioning Error (m)", 20)
pa.line(A_DAY, A_ERR, line_color=BLUE, line_width=4.5, line_join="round", line_cap="round")
add_text(pa, fwa, ya_lim, "a", 19, 23, "28px")
add_text(pa, fwa, ya_lim, "Coastal Array", 74, 26, "30px", "italic")

# panel b
pb, fwb = make_fig(1, rpad(*B_YLIM), B_YTICKS, B_YLABELS, "Daily Mean\nPositioning Efficiency", 31)
bx, by = unzip(B_GOLD)
pb.line(bx, by, line_color=GOLD, line_width=4.5, line_join="round", line_cap="round")
gx, gy = unzip(B_GREY)
pb.line(gx, gy, line_color=GREY, line_width=4.5, line_join="round", line_cap="round")
add_text(pb, fwb, rpad(*B_YLIM), "b", 21, 23, "28px")

# panel c
cx, cy = unzip(C_WIND)
yc_lim = rpad(min(cy), max(cy))
pc, fwc = make_fig(0, yc_lim, C_YTICKS, C_YLABELS, "Mean Wind\nDirection (degrees)", 20)
pc.line(cx, cy, line_color=BLUE, line_width=2.3, line_join="round")
add_text(pc, fwc, yc_lim, "c", 14, 23, "28px")

# panel d
dx, dy = unzip(D_WAVE)
yd_lim = rpad(min(dy), max(dy))
pd_, fwd = make_fig(1, yd_lim, D_YTICKS, D_YLABELS, "Wave Height (m)", 31)
pd_.line(dx, dy, line_color=BLUE, line_width=2.3, line_join="round")
add_text(pd_, fwd, yd_lim, "d", 17, 23, "28px")

# panel e
ex, ey = unzip(E_PERIOD)
ye_lim = rpad(*E_YLIM)
pe, fwe = make_fig(0, ye_lim, E_YTICKS, E_YLABELS, "Dominant Wave Period (sec)", 31)
pe.line(ex, ey, line_color=BLUE, line_width=2.3, line_join="round")
add_text(pe, fwe, ye_lim, "e", 14, 23, "28px")

# panel f
fx, fy = unzip(F_PERIOD)
yf_lim = rpad(min(fy), max(fy))
pf, fwf = make_fig(1, yf_lim, F_YTICKS, F_YLABELS, "Avg Wave Period (sec)", 31)
pf.line(fx, fy, line_color=BLUE, line_width=2.3, line_join="round")
add_text(pf, fwf, yf_lim, "f", 18, 23, "28px")

# panel g
gx2, gy2 = unzip(G_TEMP)
yg_lim = rpad(*G_YLIM)
pg, fwg = make_fig(0, yg_lim, G_YTICKS, G_YLABELS, "Water Temperature (°C)", 31, last=True)
pg.line(gx2, gy2, line_color=BLUE, line_width=2.3, line_join="round")
add_text(pg, fwg, yg_lim, "g", 13, 23, "28px")

layout = column(row(pa, pb), row(pc, pd_), row(pe, pf), row(pg))

open("out.html", "w").write(file_html(layout, INLINE))
